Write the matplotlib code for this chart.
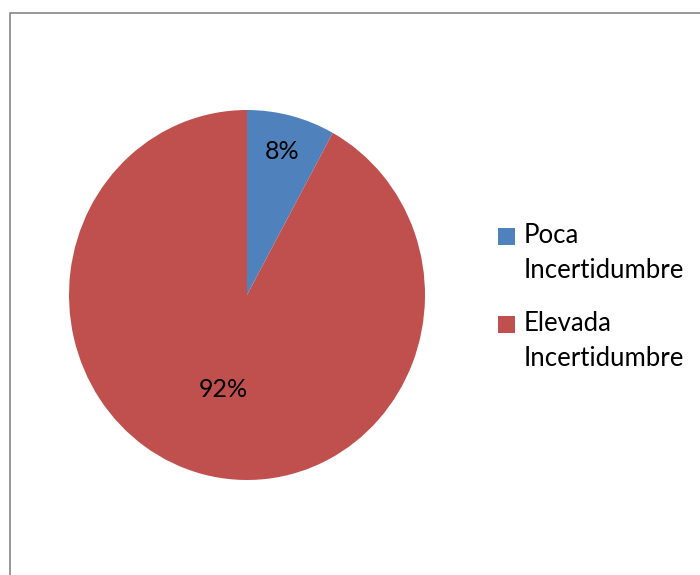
import matplotlib.pyplot as plt
from matplotlib.patches import Rectangle
import numpy as np

categories = ["Poca\nIncertidumbre", "Elevada\nIncertidumbre"]
values = [8, 92]
colors = ["#4F81BD", "#C0504D"]

plt.rcParams['font.family'] = ['Lato', 'DejaVu Sans']

fig = plt.figure(figsize=(7, 5.75), dpi=100)

# chart border (runs off the right and bottom edges)
fig.patches.append(Rectangle((9.5 / 700, -0.05), 1.0, 1 - 12.5 / 575 + 0.05,
                             transform=fig.transFigure, fill=False,
                             edgecolor="#868686", linewidth=1.2))

ax = fig.add_axes([69 / 700, 95 / 575, 356 / 700, 370 / 575])
wedges, texts, autotexts = ax.pie(values, colors=colors, startangle=90,
                                  counterclock=False, radius=1,
                                  autopct="%1.0f%%", pctdistance=0.6,
                                  textprops={"fontsize": 18, "color": "black"},
                                  wedgeprops={"linewidth": 0})
ax.set_aspect("auto")
ax.set_xlim(-1, 1)
ax.set_ylim(-1, 1)

# move percentage labels like the original
for t, r in zip(autotexts, [0.8, 0.525]):
    x, y = t.get_position()
    n = np.hypot(x, y)
    t.set_position((x / n * r, y / n * r))

# legend drawn by hand so the square sits on the first line
for i, (lab, col) in enumerate(zip(categories, colors)):
    ytop = 228 + i * 88
    fig.patches.append(Rectangle((498 / 700, 1 - (ytop + 17) / 575), 17 / 700, 17 / 575,
                                 transform=fig.transFigure, facecolor=col,
                                 edgecolor="none"))
    for j, line in enumerate(lab.split("\n")):
        base = 243 + i * 88 + j * 35
        fig.text(524 / 700, 1 - base / 575, line, fontsize=18.5,
                 va="baseline", ha="left")

fig.savefig("out.png", dpi=100)
